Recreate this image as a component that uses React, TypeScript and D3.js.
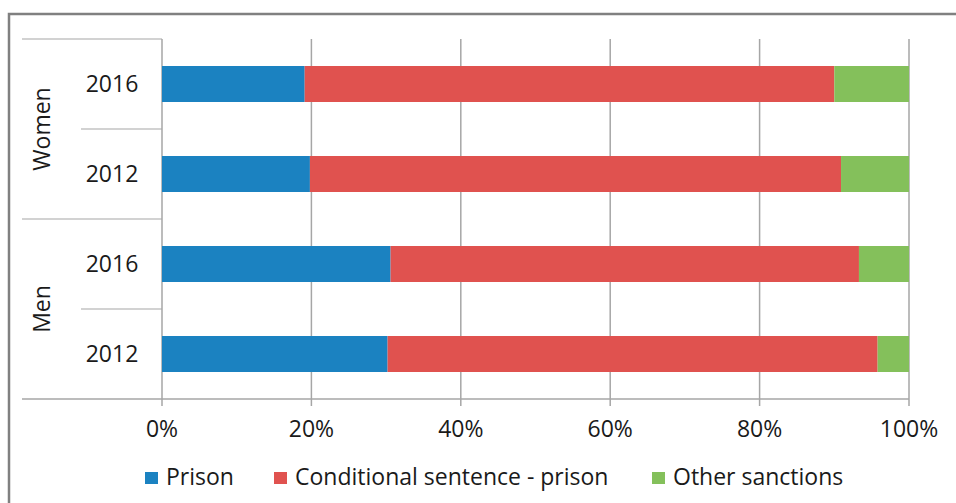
import React from "react";
import * as d3 from "d3";

const groups = ["Women", "Men"];
const years = ["2016", "2012"];
const rowGroups = ["Women", "Women", "Men", "Men"];
const rowYears = ["2016", "2012", "2016", "2012"];
const seriesNames = ["Prison", "Conditional sentence - prison", "Other sanctions"];
const prison = [19.1, 19.8, 30.6, 30.2];
const conditional = [70.9, 71.1, 62.7, 65.6];
const other = [10.0, 9.1, 6.7, 4.2];
const xTicks = [0, 20, 40, 60, 80, 100];

const colors = ["#1b82c1", "#e0524f", "#84c05b"];
const FONT = "'Open Sans', 'Noto Sans', sans-serif";

export default function App() {
  const W = 956, H = 503;
  const left = 162, right = 909, top = 39, bottom = 399;
  const catLeft = 22, subLeft = 81;
  const fs = 23;

  const rows = rowYears.map((y, i) => ({
    id: rowGroups[i] + y,
    group: rowGroups[i],
    year: y,
    Prison: prison[i],
    Conditional: conditional[i],
    Other: other[i],
  }));
  const keys = ["Prison", "Conditional", "Other"];
  const stacked = d3.stack<any>().keys(keys)(rows);

  const x = d3.scaleLinear().domain([0, 100]).range([left, right]);
  const y = d3
    .scaleBand<string>()
    .domain(rows.map((r) => r.id))
    .range([top, bottom])
    .paddingInner(0.6)
    .paddingOuter(0.3);
  const rowBand = d3
    .scaleBand<string>()
    .domain(rows.map((r) => r.id))
    .range([top, bottom]);
  const groupBand = d3.scaleBand<string>().domain(groups).range([top, bottom]);

  const lineColor = "#a6a6a6";

  const legendX = [145, 274, 652];

  return (
    <svg
      width={W}
      height={H}
      style={{ position: "absolute", left: 0, top: 0, background: "#fff" }}
      fontFamily={FONT}
    >
      <rect x={9} y={14} width={980} height={520} fill="#fff" stroke="#808080" strokeWidth={2.5} />

      {/* gridlines */}
      {xTicks.map((t) => (
        <line
          key={"g" + t}
          x1={x(t)}
          x2={x(t)}
          y1={top}
          y2={bottom + 7}
          stroke={lineColor}
          strokeWidth={1.5}
        />
      ))}

      {/* category axis lines */}
      <line x1={catLeft} x2={left} y1={top} y2={top} stroke={lineColor} strokeWidth={1.2} />
      <line x1={catLeft} x2={right} y1={bottom} y2={bottom} stroke={lineColor} strokeWidth={1.5} />
      {groups.slice(1).map((g) => (
        <line
          key={"gs" + g}
          x1={catLeft}
          x2={left}
          y1={groupBand(g)!}
          y2={groupBand(g)!}
          stroke={lineColor}
          strokeWidth={1.2}
        />
      ))}
      {rows.map((r, i) =>
        i % years.length !== 0 ? (
          <line
            key={"rs" + r.id}
            x1={subLeft}
            x2={left}
            y1={rowBand(r.id)!}
            y2={rowBand(r.id)!}
            stroke={lineColor}
            strokeWidth={1.2}
          />
        ) : null
      )}

      {/* bars */}
      {stacked.map((s, si) =>
        s.map((d, i) => (
          <rect
            key={si + "-" + i}
            x={x(d[0])}
            y={y(rows[i].id)!}
            width={x(d[1]) - x(d[0])}
            height={y.bandwidth()}
            fill={colors[si]}
          />
        ))
      )}

      {/* year labels */}
      {rows.map((r) => (
        <text
          key={"yl" + r.id}
          x={112}
          y={rowBand(r.id)! + rowBand.bandwidth() / 2}
          dy="0.36em"
          textAnchor="middle"
          fontSize={fs}
          fill="#1a1a1a"
        >
          {r.year}
        </text>
      ))}

      {/* group labels */}
      {groups.map((g) => {
        const cy = groupBand(g)! + groupBand.bandwidth() / 2;
        return (
          <text
            key={"gl" + g}
            transform={`translate(42,${cy}) rotate(-90)`}
            dy="0.36em"
            textAnchor="middle"
            fontSize={fs}
            fill="#1a1a1a"
          >
            {g}
          </text>
        );
      })}

      {/* x tick labels */}
      {xTicks.map((t) => (
        <text
          key={"xt" + t}
          x={x(t)}
          y={437}
          textAnchor="middle"
          fontSize={fs}
          fill="#1a1a1a"
        >
          {t + "%"}
        </text>
      ))}

      {/* legend */}
      {seriesNames.map((n, i) => (
        <g key={"lg" + n}>
          <rect x={legendX[i]} y={472} width={13} height={12} fill={colors[i]} />
          <text x={legendX[i] + 21} y={485} fontSize={fs} fill="#1a1a1a">
            {n}
          </text>
        </g>
      ))}
    </svg>
  );
}
